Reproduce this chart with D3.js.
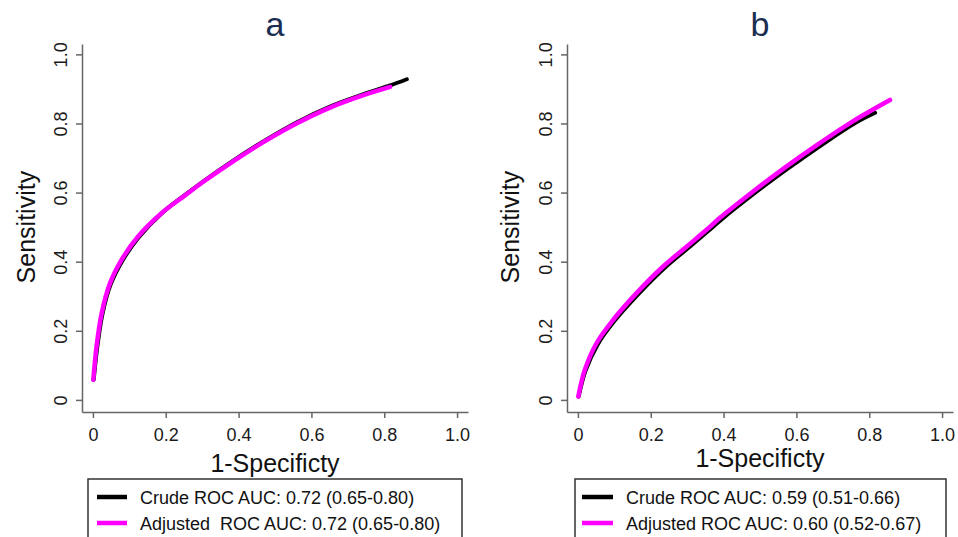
<!DOCTYPE html>
<html>
<head>
<meta charset="utf-8">
<script src="https://cdn.jsdelivr.net/npm/d3@7"></script>
<style>
  html, body { margin: 0; padding: 0; background: #fff; }
  svg { display: block; font-family: "Liberation Sans", Arial, sans-serif; }
</style>
</head>
<body>
<svg id="chart" width="958" height="537"></svg>
<script>
// ---- Data ----
const panelTitles = ["a", "b"];
const tickValues = [0, 0.2, 0.4, 0.6, 0.8, 1.0];
const tickLabels = ["0", "0.2", "0.4", "0.6", "0.8", "1.0"];

// Panel a
const crudeA_fpr = [0.002, 0.012, 0.026, 0.049, 0.081, 0.126, 0.190, 0.254, 0.309, 0.376, 0.468, 0.559, 0.651, 0.743, 0.816, 0.862];
const crudeA_tpr = [0.058, 0.153, 0.248, 0.335, 0.403, 0.471, 0.541, 0.594, 0.637, 0.686, 0.748, 0.803, 0.849, 0.885, 0.910, 0.928];
const adjA_fpr = [0.001, 0.010, 0.024, 0.047, 0.079, 0.124, 0.189, 0.253, 0.308, 0.376, 0.468, 0.559, 0.651, 0.743, 0.816];
const adjA_tpr = [0.058, 0.155, 0.251, 0.338, 0.406, 0.473, 0.541, 0.592, 0.635, 0.684, 0.746, 0.800, 0.846, 0.882, 0.906];

// Panel b
const crudeB_fpr = [0.002, 0.021, 0.054, 0.100, 0.164, 0.237, 0.302, 0.357, 0.393, 0.485, 0.576, 0.668, 0.759, 0.816];
const crudeB_tpr = [0.010, 0.085, 0.160, 0.228, 0.304, 0.381, 0.439, 0.488, 0.521, 0.598, 0.669, 0.737, 0.800, 0.831];
const adjB_fpr = [0.001, 0.019, 0.051, 0.097, 0.161, 0.234, 0.299, 0.354, 0.390, 0.482, 0.573, 0.665, 0.756, 0.857];
const adjB_tpr = [0.010, 0.087, 0.164, 0.232, 0.309, 0.386, 0.444, 0.493, 0.527, 0.604, 0.676, 0.744, 0.807, 0.868];

const legendA = ["Crude ROC AUC: 0.72 (0.65-0.80)", "Adjusted  ROC AUC: 0.72 (0.65-0.80)"];
const legendB = ["Crude ROC AUC: 0.59 (0.51-0.66)", "Adjusted ROC AUC: 0.60 (0.52-0.67)"];
const seriesColors = ["#000000", "#ff00ff"];

const zip = (xs, ys) => xs.map((x, i) => [x, ys[i]]);

// ---- Layout ----
const panels = [
  { title: panelTitles[0], left: 82, right: 468, titleX: 275,
    xTitleY: 472, yTitleX: 35, tickLabelX: 15,
    series: [zip(crudeA_fpr, crudeA_tpr), zip(adjA_fpr, adjA_tpr)],
    legend: legendA, legendBox: [88, 462], legendLineX: [97, 127], legendTextX: 140 },
  { title: panelTitles[1], left: 567, right: 953, titleX: 760,
    xTitleY: 467, yTitleX: 519, tickLabelX: 15,
    series: [zip(crudeB_fpr, crudeB_tpr), zip(adjB_fpr, adjB_tpr)],
    legend: legendB, legendBox: [575, 946], legendLineX: [582, 613], legendTextX: 626 }
];
const plotTop = 44, plotBottom = 412;

const svg = d3.select("#chart");
svg.append("rect").attr("width", 958).attr("height", 537).attr("fill", "#fff");

const fmt = d => tickLabels[tickValues.indexOf(d)];

panels.forEach(p => {
  const x = d3.scaleLinear().domain([-0.03, 1.03]).range([p.left, p.right]);
  const y = d3.scaleLinear().domain([-0.035, 1.03]).range([plotBottom, plotTop]);
  const g = svg.append("g");

  // X axis
  const xAxis = g.append("g").attr("transform", `translate(0,${plotBottom})`)
    .call(d3.axisBottom(x).tickValues(tickValues).tickFormat(fmt).tickSize(6).tickSizeOuter(0));
  xAxis.selectAll("path.domain").attr("stroke", "#666").attr("stroke-width", 1.5);
  xAxis.selectAll(".tick line").attr("stroke", "#666").attr("stroke-width", 1.5);
  xAxis.selectAll(".tick text").attr("y", 29).attr("dy", 0)
    .attr("font-size", 18).attr("fill", "#1a1a1a")
    .attr("font-family", "'Liberation Sans', Arial, sans-serif");

  // Y axis
  const yAxis = g.append("g").attr("transform", `translate(${p.left},0)`)
    .call(d3.axisLeft(y).tickValues(tickValues).tickFormat(fmt).tickSize(6).tickSizeOuter(0));
  yAxis.selectAll("path.domain").attr("stroke", "#666").attr("stroke-width", 1.5);
  yAxis.selectAll(".tick line").attr("stroke", "#666").attr("stroke-width", 1.5);
  yAxis.selectAll(".tick text")
    .attr("x", 0).attr("y", -p.tickLabelX).attr("dy", 0)
    .attr("transform", "rotate(-90)")
    .attr("text-anchor", "middle")
    .attr("font-size", 18).attr("fill", "#1a1a1a")
    .attr("font-family", "'Liberation Sans', Arial, sans-serif");

  // Curves
  const line = d3.line().x(d => x(d[0])).y(d => y(d[1])).curve(d3.curveCatmullRom.alpha(0.5));
  g.append("path").datum(p.series[0]).attr("d", line)
    .attr("fill", "none").attr("stroke", seriesColors[0]).attr("stroke-width", 4)
    .attr("stroke-linecap", "round").attr("stroke-linejoin", "round");
  g.append("path").datum(p.series[1]).attr("d", line)
    .attr("fill", "none").attr("stroke", seriesColors[1]).attr("stroke-width", 4.5)
    .attr("stroke-linecap", "round").attr("stroke-linejoin", "round");

  // Title
  g.append("text").attr("x", p.titleX).attr("y", 36).attr("text-anchor", "middle")
    .attr("font-size", 34).attr("fill", "#1c2d52").text(p.title);

  // Axis titles
  g.append("text").attr("x", x(0.5)).attr("y", p.xTitleY).attr("text-anchor", "middle")
    .attr("font-size", 25).attr("fill", "#111").text("1-Specificty");
  g.append("text").attr("transform", `translate(${p.yTitleX},${y(0.5)}) rotate(-90)`)
    .attr("text-anchor", "middle").attr("font-size", 25).attr("fill", "#111").text("Sensitivity");

  // Legend
  const lg = g.append("g");
  lg.append("rect").attr("x", p.legendBox[0]).attr("y", 479)
    .attr("width", p.legendBox[1] - p.legendBox[0]).attr("height", 70)
    .attr("fill", "#fff").attr("stroke", "#333").attr("stroke-width", 1.5);
  p.legend.forEach((t, i) => {
    const ly = 497 + i * 26;
    lg.append("line").attr("x1", p.legendLineX[0]).attr("x2", p.legendLineX[1])
      .attr("y1", ly).attr("y2", ly).attr("stroke", seriesColors[i]).attr("stroke-width", 4.5);
    lg.append("text").attr("x", p.legendTextX).attr("y", ly + 7)
      .attr("font-size", 18).attr("fill", "#111")
      .style("white-space", "pre").text(t);
  });
});
</script>
</body>
</html>
